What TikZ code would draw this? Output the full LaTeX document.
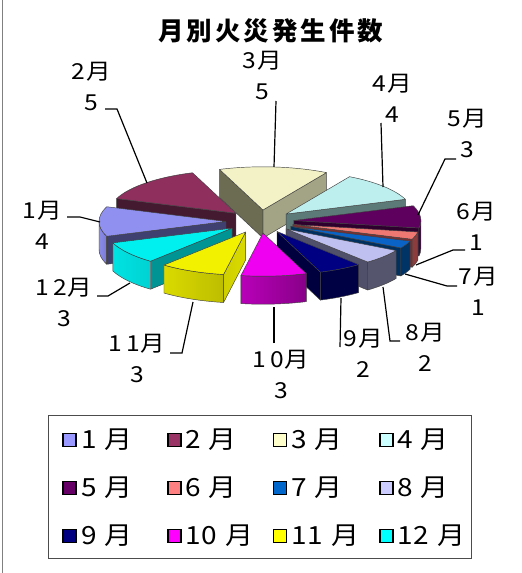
\documentclass[tikz,border=0pt]{standalone}
\usepackage{fontspec}
\newfontfamily\cjk{Noto Sans CJK JP}
\newfontfamily\cjkw[FakeStretch=1.12]{Noto Sans CJK JP}
\definecolor{c1t}{HTML}{9090F0}\definecolor{c1s}{HTML}{3F3F70}\definecolor{c1o}{HTML}{8A8AE8}\definecolor{c1p}{HTML}{7A7AD6}
\definecolor{c2t}{HTML}{8E2F5E}\definecolor{c2s}{HTML}{431A2F}
\definecolor{c3t}{HTML}{F2F2C6}\definecolor{c3r}{HTML}{A3A385}\definecolor{c3l}{HTML}{6C6C52}
\definecolor{c4t}{HTML}{BDEFEF}\definecolor{c4s}{HTML}{5C7A78}
\definecolor{c5t}{HTML}{5E005E}\definecolor{c5s}{HTML}{2E002E}\definecolor{c5o}{HTML}{3A003A}
\definecolor{c6t}{HTML}{F07872}\definecolor{c6s}{HTML}{7A3030}\definecolor{c6o}{HTML}{8C3C3C}
\definecolor{c7t}{HTML}{0A64C8}\definecolor{c7s}{HTML}{003060}\definecolor{c7o}{HTML}{003366}
\definecolor{c8t}{HTML}{C0C0F0}\definecolor{c8s}{HTML}{50506A}\definecolor{c8o}{HTML}{55556E}
\definecolor{c9t}{HTML}{000082}\definecolor{c9s}{HTML}{00003F}\definecolor{c9o}{HTML}{000044}
\definecolor{c10t}{HTML}{F000F0}\definecolor{c10a}{HTML}{B800B8}\definecolor{c10b}{HTML}{880088}
\definecolor{c11t}{HTML}{F2F200}\definecolor{c11a}{HTML}{DADA00}\definecolor{c11b}{HTML}{BDBD00}\definecolor{c11r}{HTML}{CFCF00}
\definecolor{c12t}{HTML}{00F0F0}\definecolor{c12a}{HTML}{00E2E2}\definecolor{c12b}{HTML}{00D2D2}\definecolor{c12s}{HTML}{009494}
\definecolor{g1}{HTML}{9999FF}\definecolor{g2}{HTML}{993366}\definecolor{g3}{HTML}{FFFFCC}\definecolor{g4}{HTML}{CCFFFF}
\definecolor{g5}{HTML}{660066}\definecolor{g6}{HTML}{FF8080}\definecolor{g7}{HTML}{0066CC}\definecolor{g8}{HTML}{CCCCFF}
\definecolor{g9}{HTML}{000080}\definecolor{g10}{HTML}{FF00FF}\definecolor{g11}{HTML}{FFFF00}\definecolor{g12}{HTML}{00FFFF}
\def\pcx{260}
\def\pcy{-221.5}
\def\pR{127}
\def\pk{0.34}
\def\pd{34}
\def\ph{28}
\newcommand\tk{\kern3pt}
\newcommand\pieslice[6]{%
  \pgfmathsetmacro\qmid{(#1+#2)/2}%
  \pgfmathsetmacro\qox{\pcx+\pd*cos(\qmid)}%
  \pgfmathsetmacro\qoy{\pcy+\pk*\pd*sin(\qmid)}%
  \pgfmathsetmacro\qry{\pk*\pR}%
  \pgfmathtruncatemacro\qva{cos(#1)>0}%
  \pgfmathtruncatemacro\qvb{cos(#2)<0}%
  \pgfmathsetmacro\qs{max(#1,180)}%
  \pgfmathsetmacro\qe{min(#2,360)}%
  \pgfmathtruncatemacro\qvo{\qe>\qs}%
  \begin{scope}[shift={(\qox,\qoy)}]
    \ifnum\qva=1 \path[pieedge,#4] (0,0) -- ({#1}:{\pR} and {\qry}) -- ++(0,-\ph) -- (0,-\ph) -- cycle; \fi
    \ifnum\qvb=1 \path[pieedge,#5] (0,0) -- ({#2}:{\pR} and {\qry}) -- ++(0,-\ph) -- (0,-\ph) -- cycle; \fi
    \ifnum\qvo=1 \path[pieedge,#6] ({\qs}:{\pR} and {\qry}) arc[start angle=\qs, end angle=\qe, x radius=\pR, y radius=\qry] -- ++(0,-\ph) arc[start angle=\qe, end angle=\qs, x radius=\pR, y radius=\qry] -- cycle; \fi
    \path[pieedge,fill=#3] (0,0) -- ({#1}:{\pR} and {\qry}) arc[start angle=#1, end angle=#2, x radius=\pR, y radius=\qry] -- cycle;
  \end{scope}}
\tikzset{
  pieedge/.style={draw=black!75, line width=0.45pt, line join=round},
  lead/.style={draw=black, line width=1.2pt},
  plabel/.style={font=\cjkw\fontsize{22}{31}\selectfont, align=center, inner sep=0pt},
  legmark/.style={draw=black, line width=1.8pt, minimum size=13pt, inner sep=0pt},
  legtext/.style={font=\cjkw\fontsize{25}{27}\selectfont, anchor=west, inner sep=0pt},
}
\begin{document}
\begin{tikzpicture}[x=1pt,y=1pt]
\useasboundingbox (0,0) rectangle (522,-573);
\fill[white] (0,0) rectangle (522,-573);
\draw[gray, line width=1.5pt] (2.5,0) -- (2.5,-573);
\node[font=\cjk\bfseries\fontsize{25.5}{25.5}\selectfont] (title) at (271,-31) {月\tk 別\tk 火\tk 災\tk 発\tk 生\tk 件\tk 数};
% pie, back to front
\pieslice{60}{110}{c3t}{fill=c3r}{fill=c3l}{fill=c3t}
\pieslice{110}{160}{c2t}{fill=c2s}{fill=c2s}{fill=c2s}
\pieslice{380}{420}{c4t}{fill=c4s}{fill=c4s}{fill=c4s}
\pieslice{350}{380}{c5t}{fill=c5s}{fill=c5s}{fill=c5o}
\pieslice{160}{200}{c1t}{fill=c1s}{fill=c1s}{left color=c1o, right color=c1p}
\pieslice{340}{350}{c6t}{fill=c6s}{fill=c6s}{fill=c6o}
\pieslice{330}{340}{c7t}{fill=c7s}{fill=c7s}{fill=c7o}
\pieslice{200}{230}{c12t}{fill=c12s}{fill=c12s}{left color=c12a, right color=c12b}
\pieslice{310}{330}{c8t}{fill=c8s}{fill=c8s}{fill=c8o}
\pieslice{290}{310}{c9t}{fill=c9s}{fill=c9s}{fill=c9o}
\pieslice{230}{260}{c11t}{fill=c11r}{left color=c11r, right color=c11a}{left color=c11a, right color=c11b}
\pieslice{260}{290}{c10t}{fill=c10a}{fill=c10a}{left color=c10a, right color=c10b}
% labels
\node[plabel] (l1) at (42,-225.5) {1\kern1pt 月\\4};
\node[plabel] (l2) at (91,-86.5) {2\kern1pt 月\\5};
\node[plabel] (l3) at (262,-75.5) {3\kern1pt 月\\5};
\node[plabel] (l4) at (392,-98) {4\kern1pt 月\\4};
\node[plabel] (l5) at (467,-133.5) {5\kern1pt 月\\3};
\node[plabel] (l6) at (476.5,-226) {6\kern1pt 月\\1};
\node[plabel] (l7) at (478,-291.5) {7\kern1pt 月\\1};
\node[plabel] (l8) at (425,-347.5) {8\kern1pt 月\\2};
\node[plabel] (l9) at (363,-353.5) {9\kern1pt 月\\2};
\node[plabel] (l10) at (281,-374.5) {1\kern4pt 0\kern1pt 月\\3};
\node[plabel] (l11) at (137,-358.5) {1\kern4pt 1\kern1pt 月\\3};
\node[plabel] (l12) at (64,-302.5) {1\kern4pt 2\kern1pt 月\\3};
% leader lines
\coordinate (p1a) at (67,-217); \coordinate (p1b) at (80,-217); \coordinate (p1c) at (100,-222);
\coordinate (p2a) at (105,-109); \coordinate (p2b) at (117,-109); \coordinate (p2c) at (147,-183);
\coordinate (p3a) at (276,-101); \coordinate (p3c) at (274,-167);
\coordinate (p4a) at (381,-123); \coordinate (p4c) at (383,-187);
\coordinate (p5a) at (456,-159); \coordinate (p5b) at (445,-159); \coordinate (p5c) at (418,-215);
\coordinate (p6a) at (465,-250); \coordinate (p6b) at (453,-250); \coordinate (p6c) at (416,-265);
\coordinate (p7a) at (457,-286); \coordinate (p7b) at (447,-286); \coordinate (p7c) at (405,-274);
\coordinate (p8a) at (400,-341); \coordinate (p8b) at (390,-341); \coordinate (p8c) at (383,-287);
\coordinate (p9a) at (340,-347); \coordinate (p9c) at (341,-298);
\coordinate (p10a) at (274,-343); \coordinate (p10c) at (274,-307);
\coordinate (p11a) at (170,-353); \coordinate (p11b) at (182,-353); \coordinate (p11c) at (193,-302);
\coordinate (p12a) at (97,-296); \coordinate (p12b) at (108,-296); \coordinate (p12c) at (130,-283);
\draw[lead] (p1a) -- (p1b) -- (p1c);
\draw[lead] (p2a) -- (p2b) -- (p2c);
\draw[lead] (p3a) -- (p3c);
\draw[lead] (p4a) -- (p4c);
\draw[lead] (p5a) -- (p5b) -- (p5c);
\draw[lead] (p6a) -- (p6b) -- (p6c);
\draw[lead] (p7a) -- (p7b) -- (p7c);
\draw[lead] (p8a) -- (p8b) -- (p8c);
\draw[lead] (p9a) -- (p9c);
\draw[lead] (p10a) -- (p10c);
\draw[lead] (p11a) -- (p11b) -- (p11c);
\draw[lead] (p12a) -- (p12b) -- (p12c);
% legend
\node[draw=black!70, line width=1pt, minimum width=423pt, minimum height=143pt, inner sep=0pt] (legend) at (259.5,-486.5) {};
\foreach \i/\c/\xm/\xt/\ym/\tx in {1/g1/69.5/81/440/1, 2/g2/174.5/185/440/2, 3/g3/280/291/440/3, 4/g4/386.5/397/440/4,
  5/g5/69.5/81/488/5, 6/g6/174.5/185/488/6, 7/g7/280/291/488/7, 8/g8/386.5/397/488/8,
  9/g9/69.5/81/536/9, 10/g10/174.5/185/536/1\kern1pt 0, 11/g11/280/291/536/1\kern1pt 1, 12/g12/386.5/397/536/1\kern1pt 2}{
  \node[legmark, fill=\c] (m\i) at (\xm,-\ym) {};
  \node[legtext] (t\i) at (\xt,-\ym) {\tx\kern8pt 月};
}
\end{tikzpicture}
\end{document}
